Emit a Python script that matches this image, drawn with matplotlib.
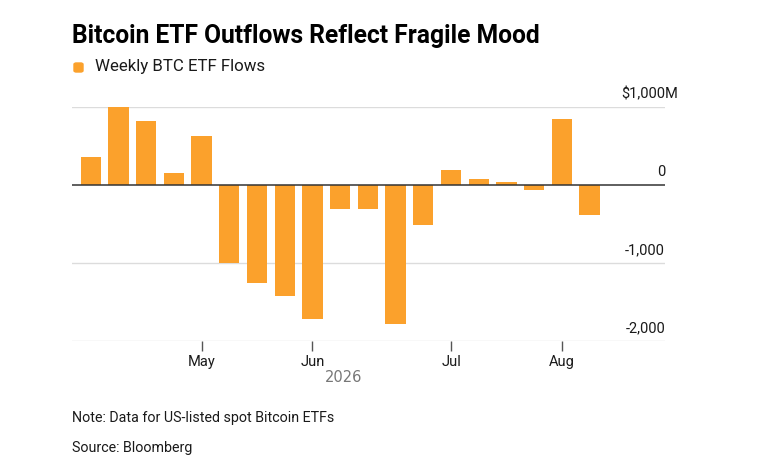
import matplotlib
matplotlib.use('Agg')
import matplotlib.pyplot as plt
from matplotlib.patches import FancyBboxPatch
import matplotlib.transforms as mtransforms

# weekly flows, $M, one bar per week
FLOWS = [363, 1000, 825, 154, 624, -1000, -1252, -1419, -1718, -312, -308,
         -1786, -517, 197, 77, 34, -60, 848, -389]
MONTH_TICKS = [4, 8, 13, 17]
MONTH_LABELS = ['May', 'Jun', 'Jul', 'Aug']
Y_TICKS = [1000, 0, -1000, -2000]
Y_LABELS = ['$1,000', '0', '-1,000', '-2,000']

BAR_COLOUR = '#FBA12C'
GRID_COLOUR = '#DCDCDC'
ZERO_COLOUR = '#333333'
TEXT_COLOUR = '#1A1A1A'
FONT = 'Roboto'

fig = plt.figure(figsize=(7.6, 4.66), dpi=100)
ax = fig.add_axes([72 / 760, 1 - 341 / 466, (665 - 72) / 760, (341 - 107) / 466])

ax.bar(range(len(FLOWS)), FLOWS, width=0.73, color=BAR_COLOUR, zorder=2)
ax.set_xlim(-0.675, 20.72)
ax.set_ylim(-2000, 1000)

for v in Y_TICKS:
    ax.axhline(v, color=ZERO_COLOUR if v == 0 else GRID_COLOUR,
               lw=1.1 if v == 0 else 1.0, zorder=3 if v == 0 else 1)

for s in ('top', 'right', 'left', 'bottom'):
    ax.spines[s].set_visible(False)

ax.set_yticks([])
ax.set_xticks(MONTH_TICKS)
ax.set_xticklabels(MONTH_LABELS, fontfamily=FONT, fontsize=10.5, color=TEXT_COLOUR)
ax.tick_params(axis='x', length=7, width=1, color='#555555', pad=3)

trans = mtransforms.blended_transform_factory(ax.transAxes, ax.transData)
offset = mtransforms.offset_copy(trans, fig=fig, x=0, y=4, units='points')
for v, lab in zip(Y_TICKS, Y_LABELS):
    ax.text(1.0, v, lab, transform=offset, ha='right', va='bottom',
            fontfamily=FONT, fontsize=10.5, color=TEXT_COLOUR)
ax.text(1.0, Y_TICKS[0], 'M', transform=offset, ha='left', va='bottom',
        fontfamily=FONT, fontsize=10.5, color=TEXT_COLOUR)

fig.text(344 / 760, 1 - 378 / 466, '2026', ha='center', va='center',
         fontfamily='DejaVu Sans', fontsize=10.5, color='#777777')

fig.text(72 / 760, 1 - 36 / 466, 'Bitcoin ETF Outflows Reflect Fragile Mood',
         ha='left', va='center', fontfamily=FONT, fontweight='bold',
         fontsize=17.7, color='#000000')

fig.patches.append(FancyBboxPatch((74 / 760, 1 - 72 / 466), 9 / 760, 9 / 466,
                                  boxstyle='round,pad=0,rounding_size=0.003',
                                  transform=fig.transFigure, color=BAR_COLOUR))
fig.text(95 / 760, 1 - 67 / 466, 'Weekly BTC ETF Flows', ha='left', va='center',
         fontfamily=FONT, fontsize=12.2, color=TEXT_COLOUR)

fig.text(72 / 760, 1 - 418 / 466, 'Note: Data for US-listed spot Bitcoin ETFs',
         ha='left', va='center', fontfamily=FONT, fontsize=10.3, color=TEXT_COLOUR)
fig.text(72 / 760, 1 - 448 / 466, 'Source: Bloomberg',
         ha='left', va='center', fontfamily=FONT, fontsize=10.3, color=TEXT_COLOUR)

fig.savefig('out.png', dpi=100, facecolor='white')
